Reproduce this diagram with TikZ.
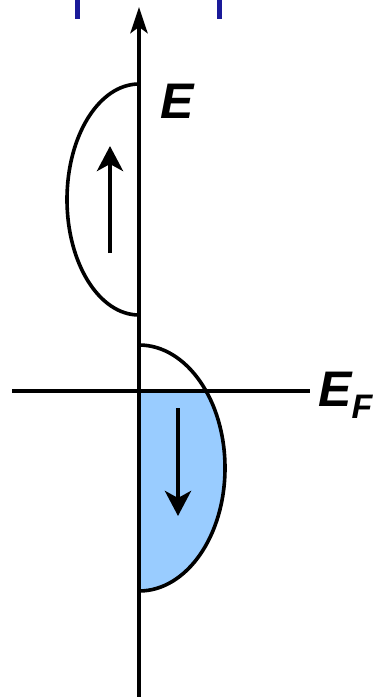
\documentclass[tikz,border=0pt]{standalone}
\usepackage{fontspec}
\setmainfont{Liberation Sans}
\usetikzlibrary{arrows.meta}
\definecolor{fillblue}{HTML}{99CCFF}
\definecolor{markblue}{HTML}{1A1A99}
\begin{document}
\begin{tikzpicture}[x=1pt,y=-1pt,
  lobe/.style={line width=3.6pt},
  spin/.style={line width=4.5pt,-{Stealth[length=25pt,width=26pt,inset=7pt]}},
  lbl/.style={font=\fontsize{50}{50}\selectfont\bfseries\itshape,inner sep=0pt}]
\useasboundingbox (0,0) rectangle (374,697);
% blue marks at top
\draw[markblue,line width=5pt] (77,0) -- (77,19);
\draw[markblue,line width=5pt] (219,0) -- (219,19);
% coordinates
\coordinate (bot) at (139,697);
\coordinate (top) at (139,7);
\coordinate (left) at (12,391);
\coordinate (right) at (310,391);
% lower lobe fill below E_F
\begin{scope}
  \clip (139,391) rectangle (260,600);
  \fill[fillblue] (139,345) arc[start angle=90,end angle=-90,x radius=86,y radius=-123];
\end{scope}
% lobes
\draw[lobe] (139,84) arc[start angle=90,end angle=270,x radius=72,y radius=-115.5];
\draw[lobe] (139,345) arc[start angle=90,end angle=-90,x radius=86,y radius=-123];
% axes
\draw[line width=4.5pt] (left) -- (right);
\draw[line width=4.5pt,-{Stealth[length=26pt,width=17pt,inset=6pt]}] (bot) -- (top);
% spin arrows
\coordinate (u1) at (110,253);
\coordinate (u2) at (110,146);
\coordinate (d1) at (178,408);
\coordinate (d2) at (178,516);
\draw[spin] (u1) -- (u2);
\draw[spin] (d1) -- (d2);
% labels
\node[lbl,anchor=base west] (E) at (160,118) {E};
\node[lbl,anchor=base west] (EF) at (318,406) {E\raisebox{-12pt}{\fontsize{34}{34}\selectfont F}};
\end{tikzpicture}
\end{document}
